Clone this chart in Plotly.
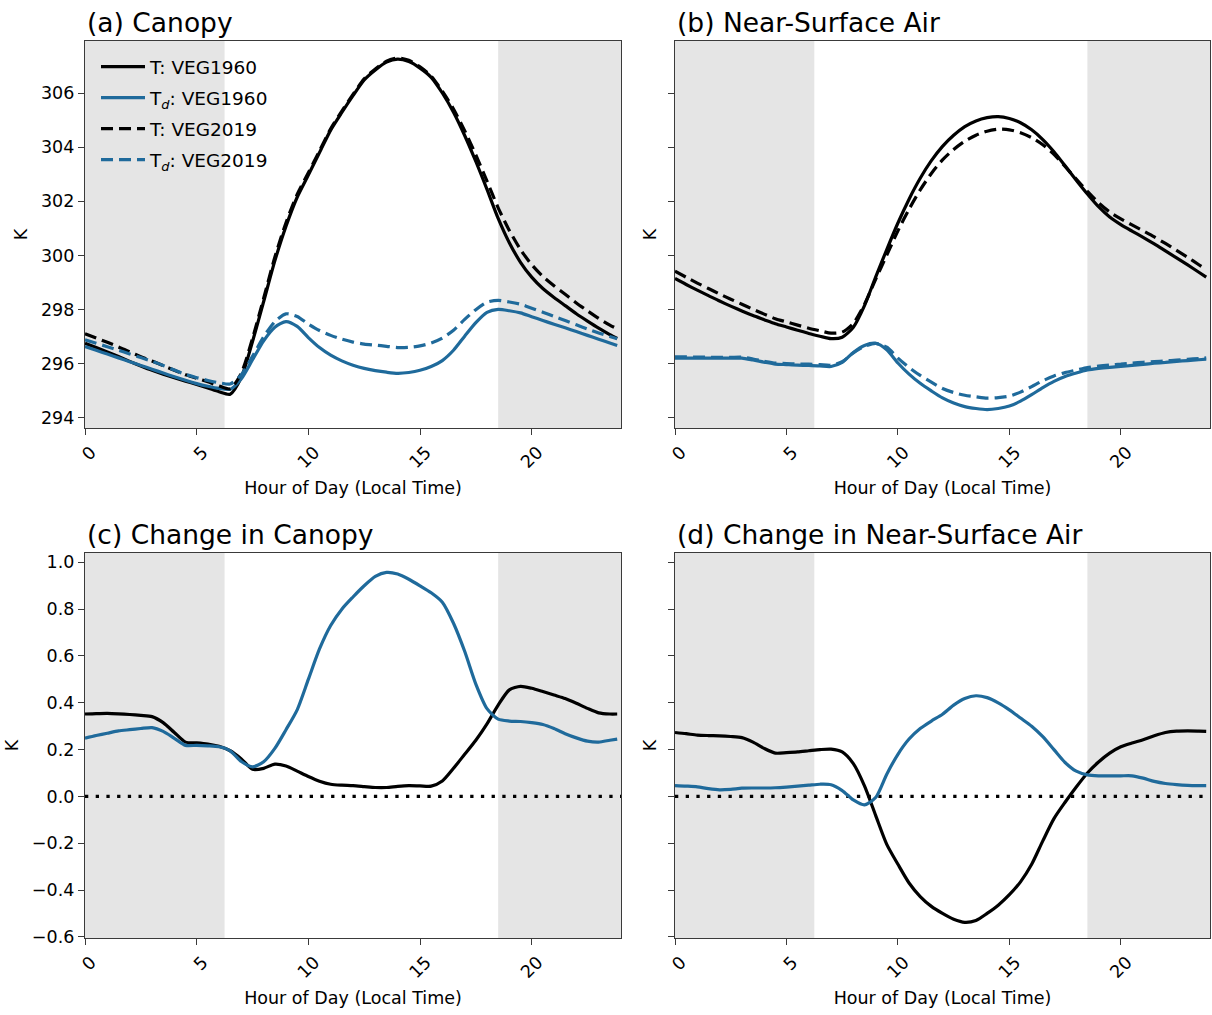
import numpy as np
import plotly.graph_objects as go

# Half-hourly diurnal composite (local time, hours)
HOUR = [0.0, 0.5, 1.0, 1.5, 2.0, 2.5, 3.0, 3.5, 4.0, 4.5, 5.0, 5.5,
        6.0, 6.5, 7.0, 7.5, 8.0, 8.5, 9.0, 9.5, 10.0, 10.5, 11.0, 11.5,
        12.0, 12.5, 13.0, 13.5, 14.0, 14.5, 15.0, 15.5, 16.0, 16.5, 17.0, 17.5,
        18.0, 18.5, 19.0, 19.5, 20.0, 20.5, 21.0, 21.5, 22.0, 22.5, 23.0, 23.5, 23.83]

# Canopy temperature and dew point, VEG1960 (K)
CANOPY_T_1960 = [296.76, 296.60, 296.44, 296.27, 296.09, 295.92, 295.76, 295.62, 295.49, 295.36, 295.24, 295.11,
                 294.97, 294.88, 295.50, 296.82, 298.30, 299.80, 301.08, 302.15, 302.97, 303.80, 304.63, 305.28,
                 305.90, 306.48, 306.85, 307.14, 307.25, 307.16, 306.92, 306.58, 306.00, 305.29, 304.43, 303.47,
                 302.44, 301.37, 300.47, 299.75, 299.20, 298.78, 298.45, 298.15, 297.85, 297.58, 297.32, 297.08, 296.94]
CANOPY_TD_1960 = [296.64, 296.50, 296.36, 296.22, 296.08, 295.94, 295.80, 295.66, 295.52, 295.39, 295.27, 295.17,
                  295.09, 295.06, 295.45, 296.15, 296.85, 297.35, 297.56, 297.38, 296.97, 296.60, 296.32, 296.11,
                  295.95, 295.83, 295.75, 295.69, 295.65, 295.68, 295.76, 295.90, 296.12, 296.50, 297.02, 297.52,
                  297.90, 298.01, 297.96, 297.88, 297.74, 297.60, 297.46, 297.33, 297.19, 297.05, 296.91, 296.77, 296.68]

# Change in canopy T and Td, VEG2019 minus VEG1960 (K)
CANOPY_DT = [0.352, 0.354, 0.355, 0.353, 0.350, 0.346, 0.341, 0.315, 0.273, 0.232, 0.229, 0.224,
             0.214, 0.195, 0.160, 0.116, 0.120, 0.138, 0.130, 0.108, 0.085, 0.065, 0.052, 0.048,
             0.046, 0.042, 0.038, 0.038, 0.043, 0.046, 0.045, 0.044, 0.066, 0.120, 0.180, 0.240,
             0.310, 0.390, 0.455, 0.470, 0.462, 0.448, 0.433, 0.418, 0.398, 0.376, 0.357, 0.352, 0.352]
CANOPY_DTD = [0.249, 0.260, 0.270, 0.280, 0.285, 0.290, 0.294, 0.278, 0.248, 0.218, 0.218, 0.216,
              0.212, 0.195, 0.149, 0.126, 0.148, 0.205, 0.285, 0.370, 0.500, 0.630, 0.730, 0.800,
              0.852, 0.900, 0.940, 0.957, 0.950, 0.928, 0.900, 0.870, 0.830, 0.740, 0.620, 0.480,
              0.375, 0.330, 0.322, 0.320, 0.315, 0.307, 0.290, 0.268, 0.250, 0.236, 0.232, 0.240, 0.245]

# Near-surface air temperature and dew point, VEG1960 (K)
AIR_T_1960 = [299.15, 298.93, 298.72, 298.52, 298.32, 298.13, 297.95, 297.78, 297.63, 297.48, 297.36, 297.24,
              297.12, 297.02, 296.93, 296.98, 297.35, 298.15, 299.20, 300.22, 301.20, 302.08, 302.85, 303.50,
              304.03, 304.44, 304.76, 304.97, 305.09, 305.13, 305.06, 304.90, 304.64, 304.28, 303.83, 303.31,
              302.78, 302.27, 301.80, 301.42, 301.14, 300.90, 300.67, 300.43, 300.17, 299.91, 299.65, 299.38, 299.20]
AIR_TD_1960 = [296.21, 296.21, 296.21, 296.21, 296.21, 296.21, 296.21, 296.14, 296.06, 295.99, 295.97, 295.95,
               295.94, 295.92, 295.90, 296.05, 296.42, 296.68, 296.76, 296.52, 296.03, 295.62, 295.28, 295.00,
               294.74, 294.55, 294.42, 294.35, 294.31, 294.35, 294.44, 294.62, 294.86, 295.12, 295.35, 295.53,
               295.66, 295.77, 295.83, 295.87, 295.90, 295.94, 295.98, 296.02, 296.05, 296.09, 296.12, 296.15, 296.17]

# Change in near-surface air T and Td, VEG2019 minus VEG1960 (K)
AIR_DT = [0.273, 0.268, 0.262, 0.260, 0.259, 0.256, 0.251, 0.232, 0.205, 0.185, 0.187, 0.190,
          0.195, 0.200, 0.202, 0.190, 0.140, 0.045, -0.081, -0.205, -0.290, -0.370, -0.428, -0.470,
          -0.500, -0.525, -0.538, -0.530, -0.500, -0.465, -0.420, -0.365, -0.290, -0.190, -0.095, -0.025,
          0.040, 0.100, 0.147, 0.185, 0.212, 0.228, 0.242, 0.259, 0.273, 0.279, 0.280, 0.279, 0.278]
AIR_DTD = [0.046, 0.044, 0.041, 0.033, 0.028, 0.030, 0.035, 0.036, 0.036, 0.037, 0.040, 0.044,
           0.048, 0.052, 0.050, 0.025, -0.015, -0.036, -0.005, 0.095, 0.180, 0.245, 0.290, 0.322,
           0.351, 0.390, 0.418, 0.430, 0.422, 0.400, 0.370, 0.335, 0.300, 0.255, 0.200, 0.145,
           0.108, 0.092, 0.088, 0.088, 0.088, 0.088, 0.078, 0.064, 0.055, 0.050, 0.047, 0.046, 0.046]

# Night-time periods (before sunrise, after sunset)
NIGHT = [(0.0, 6.25), (18.5, 24.0)]

X_TICKS = [0, 5, 10, 15, 20]
TOP_TICKS = [294, 296, 298, 300, 302, 304, 306]
BOTTOM_TICKS = [-0.6, -0.4, -0.2, 0.0, 0.2, 0.4, 0.6, 0.8, 1.0]

TITLES = ["(a) Canopy", "(b) Near-Surface Air", "(c) Change in Canopy", "(d) Change in Near-Surface Air"]

# VEG2019 = VEG1960 + change
CANOPY_T_2019 = np.array(CANOPY_T_1960) + np.array(CANOPY_DT)
CANOPY_TD_2019 = np.array(CANOPY_TD_1960) + np.array(CANOPY_DTD)
AIR_T_2019 = np.array(AIR_T_1960) + np.array(AIR_DT)
AIR_TD_2019 = np.array(AIR_TD_1960) + np.array(AIR_DTD)

BLACK = "#000000"
BLUE = "#1f6a9b"
DASH = "12px,6px"
LW = 3.2
FONT = "DejaVu Sans"
W, H = 1212, 1015

fig = go.Figure()


def line(x, y, color, dash, name, xa, ya, legend=False):
    fig.add_trace(go.Scatter(
        x=x, y=y, mode="lines", name=name, showlegend=legend, legendgroup=name + xa,
        line=dict(color=color, width=LW, dash=dash, shape="spline", smoothing=0.7),
        xaxis=xa, yaxis=ya, hoverinfo="skip"))


# (a) canopy
line(HOUR, CANOPY_T_1960, BLACK, "solid", "T: VEG1960", "x", "y", True)
line(HOUR, CANOPY_TD_1960, BLUE, "solid", "T<sub><i>d</i></sub>: VEG1960", "x", "y", True)
line(HOUR, CANOPY_T_2019, BLACK, DASH, "T: VEG2019", "x", "y", True)
line(HOUR, CANOPY_TD_2019, BLUE, DASH, "T<sub><i>d</i></sub>: VEG2019", "x", "y", True)
# (b) near-surface air
line(HOUR, AIR_T_1960, BLACK, "solid", "T: VEG1960", "x2", "y2")
line(HOUR, AIR_TD_1960, BLUE, "solid", "Td: VEG1960", "x2", "y2")
line(HOUR, AIR_T_2019, BLACK, DASH, "T: VEG2019", "x2", "y2")
line(HOUR, AIR_TD_2019, BLUE, DASH, "Td: VEG2019", "x2", "y2")
# (c) change in canopy
line(HOUR, CANOPY_DT, BLACK, "solid", "dT canopy", "x3", "y3")
line(HOUR, CANOPY_DTD, BLUE, "solid", "dTd canopy", "x3", "y3")
# (d) change in near-surface air
line(HOUR, AIR_DT, BLACK, "solid", "dT air", "x4", "y4")
line(HOUR, AIR_DTD, BLUE, "solid", "dTd air", "x4", "y4")

# panel boxes in pixels: left, right, top, bottom
BOXES = [(85, 621, 41, 428), (675, 1210, 41, 428),
         (85, 621, 553, 938), (675, 1210, 553, 938)]

axis_style = dict(showline=True, linecolor="#3a3a3a", linewidth=1.3, mirror=True,
                  ticks="outside", ticklen=6, tickwidth=1.3, tickcolor="#3a3a3a",
                  showgrid=False, zeroline=False, automargin=False,
                  tickfont=dict(family=FONT, size=17.5, color="black"))

layout = dict(
    width=W, height=H, margin=dict(l=0, r=0, t=0, b=0, autoexpand=False),
    paper_bgcolor="white", plot_bgcolor="rgba(0,0,0,0)",
    font=dict(family=FONT, size=17.5, color="black"),
    showlegend=True,
    legend=dict(x=96 / W, y=1 - 48 / H, xanchor="left", yanchor="top",
                bgcolor="rgba(0,0,0,0)", font=dict(family=FONT, size=18.5),
                itemwidth=44, tracegroupgap=4),
)

shapes = []
annotations = []
for i, (l, r, t, b) in enumerate(BOXES):
    n = "" if i == 0 else str(i + 1)
    xa, ya = "xaxis" + n, "yaxis" + n
    top = i < 2
    left = i % 2 == 0
    layout[xa] = dict(axis_style, domain=[l / W, r / W], range=[0, 24], anchor="y" + n,
                      tickvals=X_TICKS, tickangle=-45, ticklabelshift=6,
                      title=dict(text="Hour of Day (Local Time)", font=dict(family=FONT, size=17.5), standoff=10))
    yd = dict(axis_style, domain=[1 - b / H, 1 - t / H], anchor="x" + n,
              title=dict(text="K", font=dict(family=FONT, size=17.5), standoff=8 if left else 6))
    if top:
        yd.update(range=[293.63, 307.92], tickvals=TOP_TICKS)
    else:
        yd.update(range=[-0.605, 1.04], tickvals=BOTTOM_TICKS, tickformat=".1f")
    if not left:
        yd.update(showticklabels=False, matches="y" if top else "y3")
    layout[ya] = yd

    for x0, x1 in NIGHT:
        shapes.append(dict(type="rect", xref="x" + n, yref="y" + n + " domain",
                           x0=x0, x1=x1, y0=0, y1=1, fillcolor="#e5e5e5",
                           line=dict(width=0), layer="below"))
    if not top:
        shapes.append(dict(type="line", xref="x" + n + " domain", yref="y" + n,
                           x0=0, x1=1, y0=0, y1=0, layer="below",
                           line=dict(color="black", width=3.3, dash="3.3px,7.4px")))
    annotations.append(dict(text=TITLES[i], xref="x" + n + " domain", yref="y" + n + " domain",
                            x=0, y=1, xanchor="left", yanchor="bottom", yshift=1, xshift=0,
                            showarrow=False, font=dict(family=FONT, size=26.5, color="black")))

layout["shapes"] = shapes
layout["annotations"] = annotations
fig.update_layout(**layout)

fig.write_html("out.html")
